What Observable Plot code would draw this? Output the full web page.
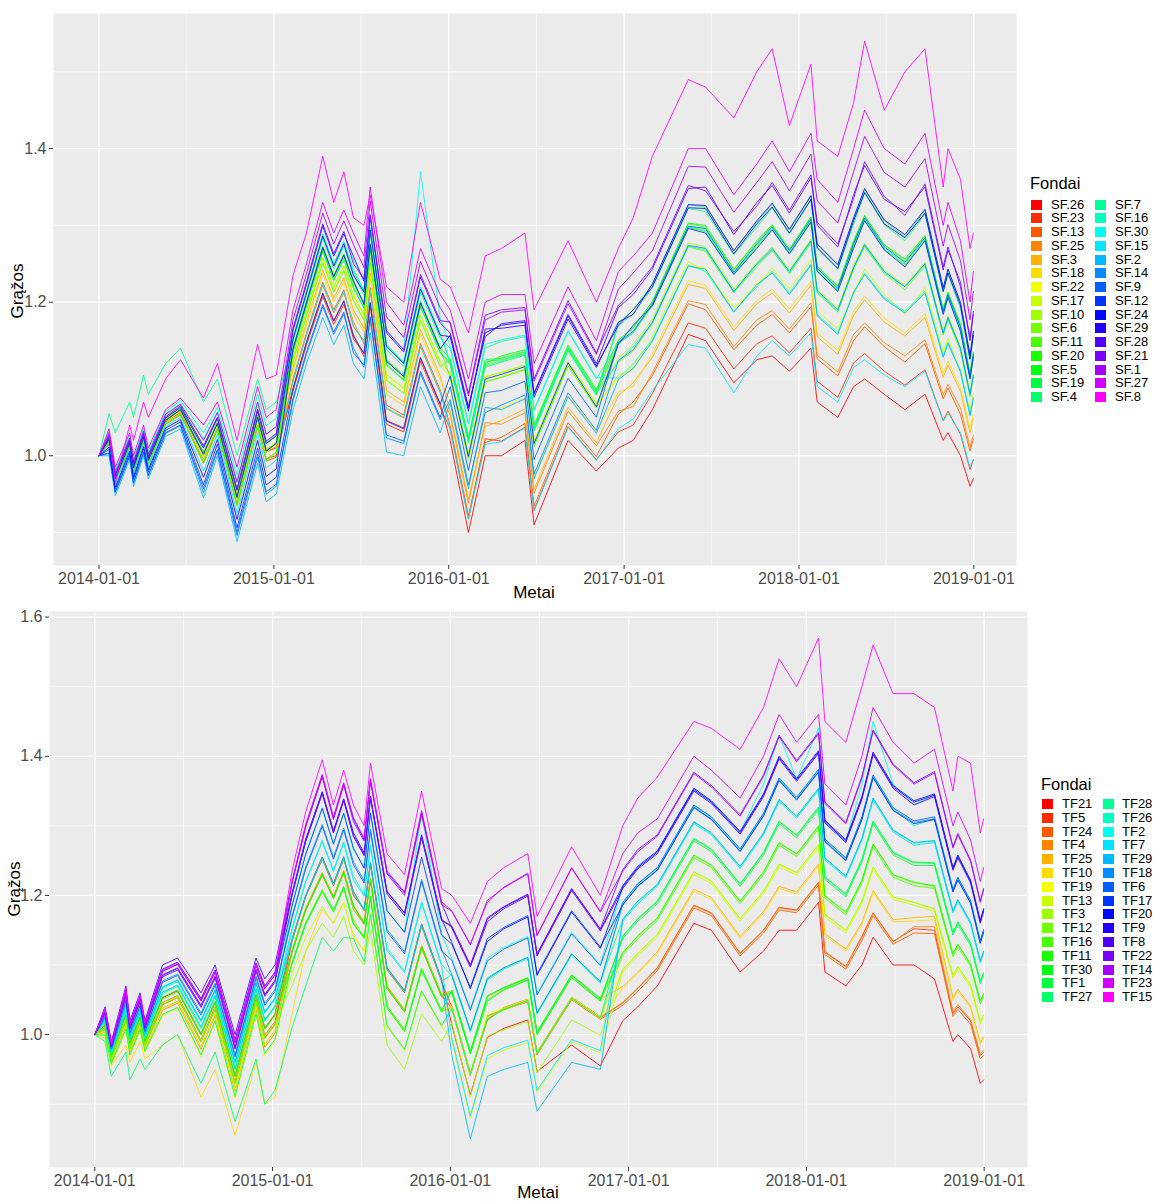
<!DOCTYPE html>
<html>
<head>
<meta charset="utf-8">
<script src="https://cdn.jsdelivr.net/npm/d3@7"></script>
<script src="https://cdn.jsdelivr.net/npm/@observablehq/plot@0.6"></script>
<style>
  html, body { margin: 0; padding: 0; background: #ffffff; }
  #root { position: relative; width: 1154px; height: 1201px; background: #ffffff; overflow: hidden;
          font-family: "Liberation Sans", Arial, sans-serif; }
  .abs { position: absolute; white-space: nowrap; }
  .axtitle { font-size: 17px; color: #000; line-height: 20px; }
  .legtitle { font-size: 16.5px; color: #000; line-height: 20px; }
  .leglab { font-size: 13px; color: #000; line-height: 16px; }
</style>
</head>
<body>
<div id="root"></div>
<script>
// ---------------- data ----------------
const dates = ["2014-01-01","2014-01-22","2014-02-04","2014-03-06","2014-03-14","2014-04-04","2014-04-14","2014-05-20","2014-06-20","2014-08-07","2014-09-05","2014-10-16","2014-11-28","2014-12-16","2015-01-06","2015-02-10","2015-03-10","2015-04-13","2015-05-06","2015-05-27","2015-06-16","2015-07-08","2015-07-21","2015-08-24","2015-09-29","2015-11-03","2015-12-14","2016-01-04","2016-02-11","2016-03-17","2016-04-20","2016-06-08","2016-06-27","2016-09-06","2016-11-04","2016-12-20","2017-01-20","2017-03-01","2017-05-15","2017-06-20","2017-08-18","2017-10-05","2017-11-06","2017-12-12","2018-01-26","2018-02-08","2018-03-23","2018-04-25","2018-05-18","2018-06-28","2018-08-10","2018-09-21","2018-10-29","2018-11-08","2018-12-04","2018-12-24","2018-12-31"];

const sfNames = ["SF.26","SF.23","SF.13","SF.25","SF.3","SF.18","SF.22","SF.17","SF.10","SF.6","SF.11","SF.20","SF.5","SF.19","SF.4","SF.7","SF.16","SF.30","SF.15","SF.2","SF.14","SF.9","SF.12","SF.24","SF.29","SF.28","SF.21","SF.1","SF.27","SF.8"];
const tfNames = ["TF21","TF5","TF24","TF4","TF25","TF10","TF19","TF13","TF3","TF12","TF16","TF11","TF30","TF1","TF27","TF28","TF26","TF2","TF7","TF29","TF18","TF6","TF17","TF20","TF9","TF8","TF22","TF14","TF23","TF15"];

// one row per date, one value per fund (legend order)
const sfRows = [
[1,1,1,1,1,1,1,1,1,1,1,1,1,1,1,1,1,1,1,1,1,1,1,1,1,1,1,1,1,1],
[1.018,1.021,1.016,1.023,1.02,1.019,1.022,1.02,1.017,1.022,1.021,1.018,1.023,1.025,1.026,1.055,1.032,1.029,1.014,1.0,1.004,1.003,1.008,1.011,1.021,1.024,1.026,1.028,1.035,1.03],
[.967,.971,.966,.970,.972,.968,.969,.971,.966,.970,.972,.967,.969,.975,.973,1.03,.981,.978,.963,.948,.952,.953,.956,.959,.970,.974,.975,.978,.985,.965],
[1.013,1.016,1.011,1.017,1.015,1.012,1.017,1.015,1.013,1.016,1.018,1.012,1.016,1.02,1.021,1.07,1.027,1.024,1.009,.995,.999,1.0,1.003,1.006,1.016,1.019,1.021,1.023,1.03,1.04],
[.98,.985,.979,.983,.986,.981,.984,.985,.979,.983,.986,.98,.984,.989,.99,1.05,.996,.993,.976,.96,.964,.965,.969,.972,.984,.987,.989,.992,1.0,1.02],
[1.02,1.025,1.019,1.023,1.026,1.021,1.024,1.025,1.019,1.023,1.026,1.02,1.024,1.029,1.03,1.105,1.036,1.033,1.016,1.0,1.004,1.005,1.009,1.012,1.024,1.027,1.029,1.032,1.04,1.07],
[.99,.995,.989,.993,.996,.991,.994,.995,.989,.993,.996,.99,.994,.999,1.0,1.08,1.006,1.003,.986,.97,.974,.975,.979,.982,.994,.997,.999,1.002,1.01,1.05],
[1.044,1.047,1.041,1.046,1.048,1.043,1.045,1.047,1.042,1.046,1.047,1.041,1.046,1.05,1.049,1.12,1.057,1.054,1.038,1.025,1.029,1.03,1.033,1.036,1.046,1.049,1.051,1.054,1.06,1.1],
[1.056,1.058,1.053,1.06,1.061,1.055,1.058,1.061,1.054,1.06,1.059,1.054,1.06,1.064,1.062,1.14,1.072,1.068,1.05,1.035,1.039,1.04,1.044,1.047,1.06,1.063,1.065,1.067,1.075,1.125],
[.99,1.0,.995,1.004,1.0,.99,1.003,.999,.994,1.005,1.001,.991,1.004,1.012,1.01,1.07,1.03,1.022,.98,.945,.952,.957,.962,.972,1.002,1.01,1.013,1.02,1.04,1.075],
[1.034,1.043,1.036,1.041,1.044,1.033,1.04,1.043,1.036,1.041,1.044,1.034,1.042,1.05,1.048,1.1,1.063,1.057,1.028,1.0,1.006,1.008,1.015,1.021,1.042,1.049,1.05,1.056,1.07,1.12],
[.936,.948,.935,.944,.95,.937,.945,.948,.934,.946,.947,.936,.945,.956,.955,1.0,.975,.965,.925,.888,.896,.9,.906,.917,.946,.955,.957,.966,.985,1.02],
[1.04,1.052,1.038,1.048,1.053,1.041,1.049,1.051,1.039,1.05,1.052,1.04,1.049,1.06,1.058,1.1,1.08,1.07,1.03,.99,.998,1.002,1.01,1.02,1.05,1.058,1.061,1.07,1.09,1.145],
[.996,1.006,.993,1.004,1.009,.996,1.005,1.008,.994,1.006,1.007,.995,1.006,1.017,1.015,1.06,1.039,1.028,.984,.94,.95,.953,.962,.973,1.006,1.016,1.019,1.028,1.05,1.1],
[1.0,1.01,.998,1.012,1.016,1.004,1.015,1.018,1.003,1.016,1.017,1.005,1.016,1.028,1.026,1.07,1.049,1.038,.994,.95,.96,.963,.972,.983,1.016,1.026,1.029,1.038,1.06,1.105],
[1.088,1.084,1.1,1.097,1.114,1.11,1.127,1.123,1.128,1.122,1.14,1.136,1.141,1.135,1.153,1.149,1.154,1.165,1.098,1.06,1.072,1.075,1.087,1.139,1.152,1.163,1.166,1.177,1.19,1.235],
[1.148,1.144,1.16,1.157,1.174,1.17,1.187,1.183,1.188,1.182,1.2,1.196,1.201,1.195,1.213,1.209,1.214,1.225,1.158,1.12,1.132,1.135,1.147,1.199,1.212,1.223,1.226,1.237,1.25,1.29],
[1.212,1.207,1.226,1.222,1.242,1.237,1.257,1.252,1.258,1.251,1.272,1.267,1.273,1.266,1.288,1.283,1.289,1.301,1.224,1.18,1.194,1.197,1.211,1.271,1.286,1.299,1.302,1.316,1.33,1.39],
[1.176,1.171,1.19,1.186,1.205,1.2,1.219,1.214,1.22,1.213,1.234,1.229,1.235,1.228,1.249,1.244,1.25,1.262,1.188,1.145,1.158,1.161,1.175,1.233,1.247,1.26,1.263,1.276,1.29,1.33],
[1.202,1.197,1.216,1.212,1.232,1.227,1.247,1.242,1.248,1.241,1.262,1.257,1.263,1.256,1.278,1.273,1.279,1.291,1.214,1.17,1.184,1.187,1.201,1.261,1.276,1.289,1.292,1.306,1.32,1.37],
[1.152,1.158,1.168,1.175,1.19,1.184,1.208,1.2,1.21,1.203,1.225,1.218,1.226,1.22,1.24,1.236,1.243,1.255,1.17,1.12,1.14,1.134,1.156,1.228,1.235,1.26,1.25,1.275,1.29,1.31],
[1.134,1.129,1.15,1.145,1.166,1.161,1.182,1.177,1.183,1.176,1.198,1.193,1.199,1.192,1.214,1.209,1.215,1.229,1.147,1.1,1.115,1.118,1.133,1.197,1.213,1.227,1.23,1.245,1.26,1.3],
[1.2,1.195,1.219,1.214,1.238,1.233,1.257,1.252,1.258,1.251,1.276,1.271,1.277,1.27,1.296,1.29,1.297,1.313,1.216,1.16,1.178,1.181,1.199,1.275,1.294,1.311,1.314,1.332,1.35,1.34],
[1.046,1.041,1.066,1.061,1.085,1.08,1.104,1.099,1.106,1.098,1.124,1.119,1.125,1.118,1.144,1.138,1.145,1.162,1.062,1.005,1.023,1.027,1.045,1.123,1.142,1.16,1.163,1.181,1.2,1.22],
[1.036,1.031,1.053,1.049,1.07,1.065,1.087,1.082,1.088,1.081,1.104,1.099,1.105,1.098,1.121,1.116,1.122,1.137,1.05,1.0,1.016,1.019,1.035,1.103,1.12,1.135,1.138,1.154,1.17,1.2],
[1.128,1.123,1.146,1.142,1.164,1.159,1.182,1.177,1.183,1.176,1.2,1.195,1.201,1.194,1.219,1.213,1.22,1.37,1.143,1.09,1.107,1.11,1.127,1.199,1.217,1.233,1.236,1.253,1.27,1.33],
[1.068,1.063,1.086,1.082,1.104,1.099,1.122,1.117,1.123,1.116,1.14,1.135,1.141,1.134,1.159,1.153,1.16,1.18,1.083,1.03,1.047,1.05,1.067,1.139,1.157,1.173,1.176,1.193,1.21,1.23],
[1.02,1.035,1.039,1.053,1.057,1.071,1.107,1.103,1.108,1.124,1.102,1.121,1.126,1.119,1.123,1.14,1.12,1.142,1.034,1.069,1.073,1.09,1.104,1.157,1.155,1.16,1.174,1.172,1.19,1.22],
[.9,.918,.922,.938,.943,.958,.998,.994,1.003,1.021,.997,1.019,1.024,1.017,1.022,1.041,1.018,1.043,.917,.957,.962,.981,.999,1.062,1.058,1.064,1.081,1.078,1.1,1.16],
[1.0,1.022,1.017,1.043,1.038,1.058,1.104,1.097,1.102,1.118,1.096,1.123,1.12,1.115,1.125,1.14,1.117,1.145,1.015,1.063,1.056,1.082,1.1,1.16,1.165,1.155,1.183,1.177,1.2,1.26],
[1.0,1.019,1.024,1.041,1.046,1.062,1.108,1.103,1.109,1.128,1.102,1.125,1.13,1.122,1.127,1.149,1.124,1.151,1.018,1.06,1.066,1.085,1.106,1.17,1.166,1.172,1.19,1.187,1.21,1.27],
[1.02,1.037,1.042,1.056,1.061,1.075,1.117,1.113,1.118,1.136,1.112,1.133,1.138,1.131,1.135,1.155,1.132,1.157,1.036,1.074,1.079,1.097,1.116,1.174,1.17,1.176,1.193,1.19,1.21,1.29],
[.91,.929,.934,.951,.956,.972,1.018,1.013,1.019,1.038,1.012,1.035,1.04,1.032,1.037,1.059,1.034,1.061,.928,.97,.976,.995,1.016,1.08,1.076,1.082,1.1,1.097,1.12,1.19],
[1.02,1.038,1.043,1.058,1.063,1.078,1.122,1.118,1.123,1.142,1.117,1.139,1.144,1.137,1.141,1.162,1.138,1.163,1.037,1.077,1.082,1.101,1.121,1.182,1.178,1.184,1.202,1.198,1.22,1.28],
[.98,.995,.999,1.013,1.017,1.031,1.067,1.063,1.068,1.084,1.062,1.081,1.086,1.079,1.083,1.1,1.08,1.102,.994,1.029,1.033,1.05,1.064,1.117,1.115,1.12,1.134,1.132,1.15,1.2],
[1.01,1.031,1.054,1.058,1.078,1.083,1.1,1.105,1.127,1.122,1.15,1.146,1.151,1.173,1.169,1.147,1.123,1.101,1.035,1.099,1.124,1.148,1.145,1.17,1.174,1.193,1.196,1.217,1.24,1.27],
[1.02,1.04,1.07,1.064,1.095,1.09,1.118,1.112,1.145,1.136,1.168,1.16,1.166,1.19,1.185,1.16,1.142,1.12,1.048,1.114,1.138,1.162,1.17,1.19,1.184,1.21,1.215,1.238,1.26,1.31],
[1.06,1.081,1.104,1.108,1.128,1.133,1.15,1.155,1.177,1.172,1.2,1.196,1.201,1.223,1.219,1.197,1.173,1.151,1.085,1.149,1.174,1.198,1.195,1.22,1.224,1.243,1.246,1.267,1.29,1.39],
[1.158,1.173,1.198,1.202,1.223,1.228,1.248,1.253,1.277,1.272,1.302,1.297,1.303,1.327,1.322,1.298,1.273,1.248,1.145,1.247,1.274,1.299,1.296,1.323,1.327,1.348,1.352,1.377,1.4,1.49],
[1.15,1.166,1.19,1.197,1.218,1.222,1.245,1.24,1.272,1.266,1.298,1.292,1.3,1.324,1.318,1.294,1.268,1.24,1.14,1.243,1.27,1.296,1.29,1.322,1.326,1.35,1.345,1.376,1.4,1.48],
[1.095,1.113,1.138,1.142,1.163,1.168,1.188,1.193,1.217,1.212,1.242,1.237,1.243,1.267,1.262,1.238,1.213,1.188,1.082,1.187,1.214,1.239,1.236,1.263,1.267,1.288,1.292,1.317,1.34,1.44],
[1.125,1.146,1.17,1.177,1.198,1.202,1.225,1.22,1.252,1.246,1.278,1.272,1.28,1.304,1.298,1.274,1.248,1.22,1.13,1.223,1.25,1.276,1.27,1.302,1.306,1.33,1.325,1.356,1.38,1.5],
[1.13,1.156,1.184,1.189,1.212,1.217,1.24,1.245,1.272,1.267,1.3,1.295,1.301,1.328,1.323,1.296,1.268,1.24,1.15,1.238,1.27,1.298,1.294,1.324,1.329,1.352,1.356,1.383,1.41,1.53],
[1.11,1.134,1.16,1.165,1.186,1.191,1.212,1.217,1.242,1.237,1.268,1.263,1.269,1.294,1.289,1.264,1.238,1.212,1.13,1.21,1.24,1.267,1.263,1.29,1.295,1.316,1.32,1.345,1.37,1.43],
[1.14,1.166,1.194,1.199,1.222,1.227,1.25,1.255,1.282,1.277,1.31,1.305,1.311,1.338,1.333,1.306,1.278,1.25,1.16,1.248,1.28,1.308,1.304,1.334,1.339,1.362,1.366,1.393,1.42,1.51],
[1.07,1.097,1.126,1.131,1.155,1.16,1.184,1.189,1.217,1.212,1.246,1.241,1.247,1.275,1.27,1.242,1.213,1.184,1.09,1.182,1.215,1.244,1.24,1.271,1.276,1.3,1.304,1.332,1.36,1.41],
[1.05,1.076,1.104,1.109,1.132,1.137,1.16,1.165,1.192,1.187,1.22,1.215,1.221,1.248,1.243,1.216,1.188,1.16,1.07,1.158,1.19,1.218,1.214,1.244,1.249,1.272,1.276,1.303,1.33,1.39],
[1.09,1.121,1.15,1.158,1.183,1.188,1.214,1.21,1.248,1.242,1.278,1.272,1.28,1.308,1.302,1.274,1.245,1.212,1.115,1.213,1.245,1.276,1.27,1.306,1.31,1.34,1.335,1.37,1.4,1.46],
[1.1,1.133,1.168,1.173,1.203,1.208,1.238,1.243,1.277,1.272,1.312,1.307,1.313,1.347,1.342,1.308,1.273,1.238,1.125,1.236,1.275,1.31,1.306,1.343,1.348,1.378,1.383,1.416,1.45,1.54],
[1.08,1.11,1.142,1.147,1.174,1.179,1.206,1.211,1.242,1.237,1.274,1.269,1.275,1.306,1.301,1.27,1.238,1.206,1.105,1.204,1.24,1.272,1.268,1.302,1.307,1.334,1.338,1.369,1.4,1.45],
[1.06,1.092,1.122,1.13,1.156,1.16,1.188,1.184,1.222,1.216,1.254,1.248,1.256,1.285,1.28,1.25,1.22,1.188,1.09,1.186,1.22,1.252,1.246,1.284,1.288,1.318,1.313,1.35,1.38,1.5],
[1.08,1.112,1.146,1.151,1.18,1.185,1.214,1.219,1.252,1.247,1.286,1.281,1.287,1.32,1.315,1.282,1.248,1.214,1.11,1.212,1.25,1.284,1.28,1.316,1.321,1.35,1.354,1.387,1.42,1.53],
[1.02,1.046,1.074,1.079,1.102,1.107,1.13,1.135,1.162,1.157,1.19,1.185,1.191,1.218,1.213,1.186,1.158,1.13,1.045,1.128,1.16,1.188,1.184,1.214,1.219,1.242,1.246,1.273,1.3,1.35],
[1.03,1.058,1.088,1.093,1.118,1.123,1.148,1.153,1.182,1.177,1.212,1.207,1.213,1.242,1.237,1.208,1.178,1.148,1.055,1.146,1.18,1.21,1.206,1.238,1.243,1.268,1.272,1.301,1.33,1.4],
[1.0,1.028,1.054,1.062,1.084,1.088,1.112,1.108,1.142,1.136,1.17,1.164,1.172,1.198,1.192,1.166,1.14,1.11,1.03,1.11,1.14,1.168,1.162,1.196,1.2,1.226,1.22,1.254,1.28,1.36],
[.96,.982,1.006,1.011,1.03,1.035,1.054,1.059,1.082,1.077,1.106,1.101,1.107,1.13,1.125,1.102,1.078,1.054,.985,1.052,1.08,1.104,1.1,1.126,1.131,1.15,1.154,1.177,1.2,1.27],
[.97,.995,1.022,1.027,1.049,1.054,1.076,1.081,1.107,1.102,1.134,1.129,1.135,1.161,1.156,1.13,1.103,1.076,.995,1.074,1.105,1.132,1.128,1.157,1.162,1.184,1.188,1.214,1.24,1.29]
];

const tfRows = [
[1,1,1,1,1,1,1,1,1,1,1,1,1,1,1,1,1,1,1,1,1,1,1,1,1,1,1,1,1,1],
[1.014,1.008,1.01,1.003,1.005,.995,1.0,1.004,1.009,1.007,1.012,1.014,1.018,.999,.99,1.017,1.023,1.021,1.019,1.022,1.027,1.025,1.031,1.036,1.034,1.04,1.03,1.032,1.035,1.037],
[.97,.965,.967,.961,.963,.955,.957,.962,.966,.965,.968,.97,.973,.958,.94,.972,.977,.975,.973,.976,.98,.979,.983,.987,.986,.99,.982,.984,.986,.988],
[1.029,1.02,1.022,1.013,1.015,.985,1.006,1.015,1.022,1.02,1.027,1.03,1.036,1.008,.975,1.034,1.043,1.041,1.036,1.042,1.05,1.048,1.056,1.064,1.062,1.07,1.055,1.058,1.063,1.067],
[.988,.98,.983,.975,.977,.96,.97,.977,.982,.98,.986,.988,.993,.971,.935,.992,.999,.997,.993,.998,1.004,1.002,1.009,1.015,1.013,1.02,1.008,1.01,1.014,1.016],
[1.025,1.017,1.019,1.011,1.013,.99,1.005,1.013,1.019,1.017,1.023,1.025,1.031,1.007,.965,1.03,1.037,1.035,1.031,1.036,1.043,1.041,1.048,1.055,1.053,1.06,1.047,1.049,1.054,1.056],
[.99,.984,.986,.979,.981,.965,.974,.98,.986,.984,.989,.991,.996,.976,.95,.995,1.001,.999,.996,1.0,1.006,1.004,1.01,1.016,1.014,1.02,1.009,1.011,1.015,1.017],
[1.053,1.043,1.046,1.035,1.038,.985,1.027,1.037,1.045,1.043,1.051,1.054,1.061,1.029,.985,1.059,1.069,1.066,1.061,1.068,1.077,1.075,1.085,1.094,1.091,1.1,1.083,1.086,1.091,1.093],
[1.063,1.053,1.056,1.045,1.048,1.0,1.037,1.047,1.055,1.053,1.061,1.064,1.071,1.039,1.0,1.069,1.079,1.076,1.071,1.078,1.087,1.085,1.095,1.104,1.101,1.11,1.093,1.096,1.101,1.103],
[1.0,.99,.992,.979,.982,.91,.968,.981,.991,.989,.999,1.002,1.011,.971,.93,1.009,1.021,1.018,1.011,1.02,1.031,1.028,1.041,1.052,1.049,1.06,1.039,1.042,1.048,1.051],
[1.047,1.037,1.04,1.027,1.03,.95,1.018,1.029,1.038,1.036,1.045,1.048,1.056,1.02,.975,1.054,1.065,1.062,1.056,1.064,1.074,1.071,1.083,1.093,1.09,1.1,1.081,1.084,1.09,1.092],
[.94,.93,.932,.919,.922,.855,.908,.921,.931,.929,.939,.942,.951,.911,.875,.949,.961,.958,.951,.96,.971,.968,.981,.992,.989,1.0,.979,.982,.988,.991],
[1.057,1.047,1.05,1.037,1.04,.96,1.028,1.039,1.048,1.046,1.055,1.058,1.066,1.03,.965,1.064,1.075,1.072,1.066,1.074,1.084,1.081,1.093,1.103,1.1,1.11,1.091,1.094,1.1,1.102],
[1.009,.995,.999,.982,.986,.9,.97,.985,.997,.994,1.007,1.01,1.021,.973,.9,1.019,1.033,1.03,1.021,1.032,1.045,1.042,1.057,1.07,1.066,1.08,1.055,1.058,1.066,1.069],
[1.029,1.015,1.019,1.002,1.006,.91,.99,1.005,1.017,1.014,1.027,1.03,1.041,.993,.92,1.039,1.053,1.05,1.041,1.052,1.065,1.062,1.077,1.09,1.086,1.1,1.075,1.078,1.086,1.089],
[1.137,1.134,1.12,1.118,1.121,1.03,1.104,1.088,1.07,1.102,1.121,1.101,1.118,1.104,1.01,1.135,1.153,1.186,1.151,1.137,1.17,1.168,1.185,1.203,1.2,1.219,1.201,1.217,1.22,1.235],
[1.2,1.198,1.181,1.178,1.182,1.12,1.161,1.14,1.12,1.16,1.18,1.158,1.179,1.161,1.07,1.199,1.221,1.261,1.219,1.2,1.241,1.238,1.259,1.281,1.277,1.3,1.279,1.298,1.302,1.32],
[1.255,1.252,1.232,1.229,1.233,1.18,1.208,1.184,1.16,1.206,1.231,1.205,1.23,1.208,1.14,1.253,1.279,1.326,1.277,1.255,1.302,1.299,1.325,1.349,1.346,1.372,1.348,1.37,1.374,1.395],
[1.217,1.214,1.198,1.195,1.199,1.16,1.179,1.16,1.14,1.177,1.197,1.176,1.196,1.179,1.12,1.215,1.236,1.274,1.234,1.217,1.255,1.252,1.274,1.293,1.29,1.311,1.29,1.309,1.313,1.33],
[1.255,1.252,1.235,1.232,1.236,1.19,1.213,1.19,1.17,1.211,1.234,1.21,1.233,1.213,1.14,1.253,1.277,1.318,1.275,1.256,1.297,1.294,1.318,1.339,1.336,1.36,1.338,1.358,1.362,1.38],
[1.2,1.206,1.185,1.18,1.186,1.14,1.16,1.143,1.12,1.165,1.18,1.16,1.185,1.158,1.138,1.202,1.228,1.265,1.222,1.205,1.248,1.244,1.268,1.29,1.285,1.31,1.286,1.306,1.312,1.33],
[1.18,1.178,1.161,1.158,1.162,1.12,1.141,1.12,1.1,1.14,1.16,1.138,1.159,1.141,1.105,1.179,1.201,1.241,1.199,1.18,1.221,1.218,1.239,1.261,1.257,1.28,1.259,1.278,1.282,1.3],
[1.247,1.244,1.224,1.221,1.225,1.174,1.199,1.173,1.15,1.197,1.223,1.196,1.221,1.199,1.172,1.245,1.272,1.319,1.269,1.247,1.295,1.292,1.318,1.343,1.34,1.366,1.341,1.364,1.368,1.39],
[1.096,1.093,1.069,1.066,1.07,1.012,1.041,1.011,.985,1.039,1.068,1.038,1.066,1.041,1.013,1.094,1.124,1.178,1.121,1.096,1.151,1.148,1.178,1.206,1.202,1.233,1.205,1.231,1.235,1.26],
[1.063,1.06,1.035,1.032,1.036,.978,1.007,.977,.95,1.005,1.035,1.004,1.033,1.007,.979,1.061,1.091,1.147,1.089,1.063,1.119,1.116,1.147,1.175,1.171,1.203,1.174,1.2,1.205,1.23],
[1.159,1.156,1.127,1.124,1.128,1.062,1.095,1.061,1.03,1.093,1.127,1.092,1.125,1.095,1.063,1.157,1.191,1.32,1.189,1.159,1.223,1.22,1.255,1.287,1.283,1.319,1.285,1.316,1.322,1.35],
[1.079,1.076,1.057,1.054,1.058,1.012,1.035,1.011,.99,1.033,1.057,1.032,1.055,1.035,1.013,1.077,1.101,1.145,1.099,1.079,1.123,1.12,1.143,1.167,1.164,1.189,1.165,1.187,1.191,1.21],
[1.014,1.04,1.037,1.041,1.063,1.038,1.04,.992,1.017,1.039,1.061,1.064,1.06,1.063,1.038,1.086,1.084,1.109,.995,.97,1.086,1.107,1.13,1.132,1.155,1.153,1.156,1.177,1.178,1.2],
[.913,.943,.941,.945,.975,.942,.944,.88,.911,.942,.973,.976,.972,.975,.944,1.006,1.004,1.037,.883,.85,1.006,1.035,1.068,1.066,1.099,1.097,1.1,1.129,1.13,1.16],
[.996,1.022,1.027,1.02,1.054,1.025,1.03,.965,.998,1.026,1.05,1.055,1.048,1.056,1.022,1.082,1.078,1.11,.97,.94,1.08,1.106,1.138,1.134,1.166,1.162,1.168,1.193,1.19,1.22],
[1.009,1.038,1.036,1.039,1.067,1.035,1.038,.978,1.007,1.037,1.065,1.068,1.064,1.067,1.036,1.096,1.094,1.125,.981,.95,1.096,1.123,1.154,1.152,1.183,1.181,1.184,1.211,1.212,1.24],
[1.021,1.049,1.047,1.051,1.081,1.048,1.05,.989,1.019,1.049,1.079,1.082,1.078,1.081,1.049,1.111,1.109,1.141,.992,.96,1.111,1.139,1.171,1.169,1.201,1.199,1.202,1.231,1.232,1.26],
[.947,.973,.971,.975,1.003,.972,.974,.917,.945,.973,1.001,1.004,1.0,1.003,.973,1.031,1.029,1.059,.92,.89,1.031,1.057,1.087,1.085,1.115,1.113,1.116,1.142,1.143,1.17],
[.985,1.052,1.05,1.054,1.085,1.051,1.053,.99,1.021,1.052,1.083,1.086,1.082,1.085,1.052,1.116,1.114,1.147,.993,.96,1.116,1.145,1.178,1.176,1.209,1.207,1.21,1.239,1.24,1.27],
[.955,1.024,1.022,1.026,1.051,1.023,1.025,.974,.999,1.024,1.049,1.052,1.048,1.051,1.024,1.076,1.074,1.101,.977,.95,1.076,1.099,1.126,1.124,1.151,1.149,1.152,1.176,1.177,1.2],
[1.02,1.046,1.042,1.045,1.069,1.066,1.093,1.09,1.094,1.117,1.114,1.118,1.141,1.138,1.142,1.165,1.189,1.213,1.163,1.166,1.187,1.19,1.186,1.212,1.214,1.21,1.237,1.235,1.26,1.3],
[1.04,1.067,1.062,1.066,1.09,1.088,1.116,1.113,1.117,1.141,1.138,1.142,1.166,1.163,1.167,1.19,1.216,1.24,1.188,1.192,1.214,1.217,1.213,1.24,1.242,1.238,1.266,1.263,1.29,1.34],
[1.07,1.096,1.092,1.095,1.119,1.116,1.143,1.14,1.144,1.167,1.164,1.168,1.191,1.188,1.192,1.215,1.239,1.263,1.213,1.216,1.237,1.24,1.236,1.262,1.264,1.26,1.287,1.285,1.31,1.37],
[1.16,1.186,1.182,1.185,1.209,1.206,1.233,1.23,1.234,1.257,1.254,1.258,1.281,1.278,1.282,1.305,1.329,1.353,1.303,1.306,1.327,1.33,1.326,1.352,1.354,1.35,1.377,1.375,1.4,1.45],
[1.15,1.175,1.171,1.174,1.197,1.194,1.22,1.217,1.221,1.243,1.24,1.244,1.266,1.263,1.267,1.289,1.312,1.335,1.287,1.29,1.31,1.313,1.309,1.334,1.336,1.332,1.358,1.356,1.38,1.44],
[1.09,1.117,1.113,1.116,1.141,1.138,1.166,1.163,1.167,1.191,1.188,1.192,1.216,1.213,1.217,1.241,1.266,1.291,1.239,1.242,1.264,1.267,1.263,1.29,1.292,1.288,1.316,1.314,1.34,1.41],
[1.12,1.15,1.146,1.149,1.177,1.174,1.205,1.202,1.206,1.233,1.23,1.234,1.261,1.258,1.262,1.289,1.317,1.36,1.287,1.29,1.315,1.318,1.314,1.344,1.346,1.342,1.373,1.371,1.4,1.47],
[1.15,1.183,1.179,1.182,1.213,1.21,1.244,1.241,1.245,1.275,1.272,1.276,1.306,1.303,1.307,1.337,1.368,1.43,1.335,1.338,1.366,1.369,1.365,1.398,1.4,1.396,1.43,1.428,1.46,1.54],
[1.15,1.179,1.175,1.178,1.205,1.202,1.232,1.229,1.233,1.259,1.256,1.26,1.286,1.283,1.287,1.313,1.34,1.367,1.311,1.314,1.338,1.341,1.337,1.366,1.368,1.364,1.394,1.392,1.42,1.5],
[1.19,1.219,1.215,1.218,1.245,1.242,1.272,1.269,1.273,1.299,1.296,1.3,1.326,1.323,1.327,1.353,1.38,1.44,1.351,1.354,1.378,1.381,1.377,1.406,1.408,1.404,1.434,1.432,1.46,1.57],
[1.09,1.119,1.115,1.118,1.145,1.142,1.172,1.169,1.173,1.199,1.196,1.2,1.226,1.223,1.227,1.253,1.28,1.307,1.251,1.254,1.278,1.281,1.277,1.306,1.308,1.304,1.334,1.332,1.36,1.45],
[1.07,1.098,1.094,1.097,1.123,1.12,1.149,1.146,1.15,1.175,1.172,1.176,1.201,1.198,1.202,1.227,1.253,1.279,1.225,1.228,1.251,1.254,1.25,1.278,1.28,1.276,1.305,1.303,1.33,1.42],
[1.1,1.14,1.135,1.142,1.161,1.158,1.191,1.188,1.192,1.221,1.218,1.222,1.251,1.248,1.252,1.281,1.311,1.36,1.279,1.282,1.31,1.313,1.309,1.34,1.342,1.338,1.371,1.369,1.4,1.5],
[1.14,1.175,1.171,1.174,1.207,1.204,1.24,1.237,1.241,1.273,1.27,1.274,1.306,1.303,1.307,1.339,1.372,1.45,1.337,1.34,1.37,1.373,1.369,1.404,1.406,1.402,1.438,1.436,1.47,1.56],
[1.1,1.134,1.13,1.133,1.165,1.162,1.197,1.194,1.198,1.229,1.226,1.23,1.261,1.258,1.262,1.293,1.325,1.36,1.291,1.294,1.323,1.326,1.322,1.356,1.358,1.354,1.389,1.387,1.42,1.49],
[1.1,1.152,1.146,1.155,1.168,1.163,1.19,1.186,1.19,1.218,1.214,1.219,1.247,1.243,1.248,1.275,1.3,1.33,1.272,1.276,1.305,1.307,1.303,1.334,1.336,1.33,1.362,1.36,1.39,1.49],
[1.08,1.15,1.145,1.155,1.17,1.165,1.18,1.177,1.181,1.213,1.21,1.214,1.246,1.243,1.247,1.278,1.311,1.345,1.276,1.279,1.31,1.313,1.309,1.344,1.346,1.342,1.378,1.376,1.41,1.47],
[.99,1.03,1.026,1.033,1.053,1.05,1.084,1.081,1.085,1.115,1.112,1.116,1.146,1.143,1.147,1.177,1.208,1.239,1.175,1.178,1.206,1.209,1.205,1.238,1.24,1.236,1.27,1.268,1.3,1.35],
[1.0,1.04,1.036,1.043,1.065,1.062,1.097,1.094,1.098,1.129,1.126,1.13,1.161,1.158,1.162,1.193,1.225,1.257,1.191,1.194,1.223,1.226,1.222,1.256,1.258,1.254,1.289,1.287,1.32,1.4],
[.98,1.02,1.015,1.022,1.041,1.038,1.071,1.068,1.072,1.101,1.098,1.102,1.131,1.128,1.132,1.161,1.191,1.222,1.159,1.162,1.19,1.193,1.189,1.22,1.222,1.218,1.251,1.249,1.28,1.39],
[.93,.97,.965,.972,.989,.986,1.018,1.015,1.019,1.047,1.044,1.048,1.076,1.073,1.077,1.105,1.134,1.163,1.103,1.106,1.132,1.135,1.131,1.162,1.164,1.16,1.192,1.19,1.22,1.29],
[.935,.975,.97,.978,.997,.995,1.027,1.024,1.028,1.058,1.055,1.059,1.088,1.085,1.089,1.119,1.149,1.18,1.117,1.12,1.148,1.151,1.147,1.179,1.181,1.177,1.21,1.208,1.24,1.31]
];

const xTickLabels = ["2014-01-01","2015-01-01","2016-01-01","2017-01-01","2018-01-01","2019-01-01"];
const xMinorLabels = ["2014-07-02","2015-07-02","2016-07-02","2017-07-02","2018-07-02"];
const topYTicks = [1.0, 1.2, 1.4];
const topYMinor = [0.9, 1.1, 1.3, 1.5];
const botYTicks = [1.0, 1.2, 1.4, 1.6];
const botYMinor = [0.9, 1.1, 1.3, 1.5];
const xLabel = "Metai";
const yLabel = "Grąžos";
const legendTitle = "Fondai";

// ---------------- helpers ----------------
[["sfRows", sfRows], ["tfRows", tfRows]].forEach(([n, rows]) => {
  if (rows.length !== dates.length) throw new Error(n + " has " + rows.length + " rows, dates " + dates.length);
  rows.forEach((r, i) => { if (r.length !== 30) throw new Error(n + " row " + i + " has " + r.length); });
});

const colors = d3.range(30).map(i => d3.hsl(i * 300 / 29, 1, 0.5).formatHex());
const parse = s => new Date(s + "T00:00:00Z");
const dateObjs = dates.map(parse);

function seriesFrom(rows, k) {
  return rows.map((r, j) => ({ date: dateObjs[j], value: r[k] }));
}

const root = document.getElementById("root");

function addDiv(cls, text, css) {
  const d = document.createElement("div");
  d.className = "abs " + cls;
  d.textContent = text;
  Object.assign(d.style, css);
  root.appendChild(d);
  return d;
}

function panel(cfg) {
  const lines = cfg.names.map((n, k) =>
    Plot.lineY(seriesFrom(cfg.rows, k), { x: "date", y: "value", stroke: colors[k], strokeWidth: 0.85 }));
  const svg = Plot.plot({
    width: cfg.width, height: cfg.height,
    marginLeft: cfg.ml, marginRight: cfg.mr, marginTop: cfg.mt, marginBottom: cfg.mb,
    x: { type: "utc", domain: cfg.xDomain.map(parse) },
    y: { domain: cfg.yDomain },
    style: { fontFamily: "'Liberation Sans', Arial, sans-serif", fontSize: "16px", color: "#4D4D4D",
             background: "transparent", overflow: "visible" },
    marks: [
      Plot.frame({ fill: "#EBEBEB", stroke: "none" }),
      Plot.ruleY(cfg.yMinor, { stroke: "#ffffff", strokeWidth: 0.6 }),
      Plot.ruleY(cfg.yTicks, { stroke: "#ffffff", strokeWidth: 1.2 }),
      Plot.ruleX(xMinorLabels.map(parse), { stroke: "#ffffff", strokeWidth: 0.6 }),
      Plot.ruleX(xTickLabels.map(parse), { stroke: "#ffffff", strokeWidth: 1.2 }),
      ...lines,
      Plot.axisX(xTickLabels.map(parse), { tickFormat: d3.utcFormat("%Y-%m-%d"), tickSize: 4, tickPadding: 3,
                                           stroke: "#333333", fill: "#4D4D4D", label: null }),
      Plot.axisY(cfg.yTicks, { tickFormat: d3.format(".1f"), tickSize: 4, tickPadding: 3,
                               stroke: "#333333", fill: "#4D4D4D", label: null })
    ]
  });
  svg.style.position = "absolute";
  svg.style.left = "0px";
  svg.style.top = cfg.top + "px";
  root.appendChild(svg);

  // axis titles
  addDiv("axtitle", xLabel, { left: cfg.xTitle[0] + "px", top: cfg.xTitle[1] + "px", transform: "translate(-50%,-50%)" });
  addDiv("axtitle", yLabel, { left: cfg.yTitle[0] + "px", top: cfg.yTitle[1] + "px", transform: "translate(-50%,-50%) rotate(-90deg)" });

  // legend
  const L = cfg.legend;
  addDiv("legtitle", legendTitle, { left: L.titleX + "px", top: (L.titleY - 10) + "px" });
  cfg.names.forEach((n, k) => {
    const col = k < 15 ? 0 : 1;
    const row = k % 15;
    const cy = L.y0 + row * L.dy;
    const key = document.createElement("div");
    key.className = "abs";
    Object.assign(key.style, { left: L.keyX[col] + "px", top: (cy - 5) + "px", width: "11px", height: "10px", background: colors[k] });
    root.appendChild(key);
    addDiv("leglab", n, { left: L.labX[col] + "px", top: (cy - 8) + "px" });
  });
}

panel({
  names: sfNames, rows: sfRows, top: 0, width: 1020, height: 600,
  ml: 53, mr: 4, mt: 13, mb: 35,
  xDomain: ["2013-09-28", "2019-03-31"], yDomain: [0.857, 1.576],
  yTicks: topYTicks, yMinor: topYMinor,
  xTitle: [534, 593], yTitle: [18, 291],
  legend: { titleX: 1030, titleY: 183, y0: 204.5, dy: 13.75, keyX: [1031, 1095], labX: [1051, 1115] }
});

panel({
  names: tfNames, rows: tfRows, top: 600, width: 1030, height: 601,
  ml: 49, mr: 3, mt: 11, mb: 34,
  xDomain: ["2013-09-30", "2019-03-31"], yDomain: [0.809, 1.608],
  yTicks: botYTicks, yMinor: botYMinor,
  xTitle: [538, 1193], yTitle: [15, 889],
  legend: { titleX: 1041, titleY: 784, y0: 804, dy: 13.8, keyX: [1042, 1103], labX: [1062, 1122] }
});
</script>
</body>
</html>
